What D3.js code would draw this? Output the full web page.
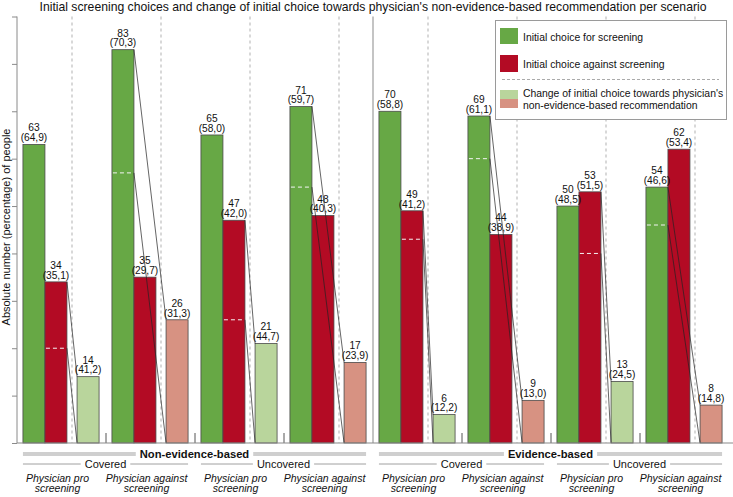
<!DOCTYPE html>
<html><head><meta charset="utf-8">
<script src="https://cdn.jsdelivr.net/npm/d3@7"></script>
<style>body{margin:0;background:#fff}svg{display:block;font-family:"Liberation Sans",Arial,sans-serif}</style>
</head><body><svg id="c" width="733" height="497"></svg>
<script>
// ---- data ----
const evidenceLevels = ["Non-evidence-based", "Evidence-based"];
const coverageLevels = ["Covered", "Uncovered"];
const physicianLevels = ["Physician pro\nscreening", "Physician against\nscreening"];
const scenarios = ["NEB-C-pro","NEB-C-against","NEB-U-pro","NEB-U-against","EB-C-pro","EB-C-against","EB-U-pro","EB-U-against"];
const forCounts = [63, 83, 65, 71, 70, 69, 50, 54];
const forPct = [64.9, 70.3, 58.0, 59.7, 58.8, 61.1, 48.5, 46.6];
const againstCounts = [34, 35, 47, 48, 49, 44, 53, 62];
const againstPct = [35.1, 29.7, 42.0, 40.3, 41.2, 38.9, 51.5, 53.4];
const changeCounts = [14, 26, 21, 17, 6, 9, 13, 8];
const changePct = [41.2, 31.3, 44.7, 23.9, 12.2, 13.0, 24.5, 14.8];
const yTicks = [0, 10, 20, 30, 40, 50, 60, 70, 80, 90];
const legendLabels = ["Initial choice for screening", "Initial choice against screening",
  "Change of initial choice towards physician's", "non-evidence-based recommendation"];
const title = "Initial screening choices and change of initial choice towards physician's non-evidence-based recommendation per scenario";
const yLabel = "Absolute number (percentage) of people";

// ---- styles ----
const C = {green:"#67a845", red:"#b30b24", lgreen:"#b9d59c", salmon:"#d79282", edge:"#4a4a4a", axis:"#8a8a8a"};
const fmt = v => "(" + d3.format(".1f")(v).replace(".", ",") + ")";

const svg = d3.select("#c");
const L = 17, R = 729, T = 16.5, B = 443;
const x = d3.scaleBand().domain(scenarios).range([L, R]);
const y = d3.scaleLinear().domain([0, 90]).range([B, T]);
const bw = x.bandwidth();
// inner layout in bar units (bar width = 1)
const unit = d3.scaleLinear().domain([0, 4.045]).range([0, bw]);
const inner = {for:0.27, against:1.27, dash:2.5, change:2.73};
const barW = unit(1);

const rows = scenarios.map((s, i) => ({
  s, i, pro: i % 2 === 0,
  f: forCounts[i], fp: forPct[i], a: againstCounts[i], ap: againstPct[i], c: changeCounts[i], cp: changePct[i]
}));

// title
svg.append("text").attr("x", 373).attr("y", 11).attr("text-anchor", "middle")
  .attr("font-size", 12.2).attr("fill", "#111").text(title);

// y label
svg.append("text").attr("transform", "translate(10,227) rotate(-90)").attr("text-anchor", "middle")
  .attr("font-size", 11).attr("fill", "#111").text(yLabel);

// dashed separators inside groups
svg.append("g").selectAll("line").data(rows).join("line")
  .attr("x1", d => x(d.s) + unit(inner.dash)).attr("x2", d => x(d.s) + unit(inner.dash))
  .attr("y1", T).attr("y2", B).attr("stroke", "#a8a8a8").attr("stroke-width", 0.9).attr("stroke-dasharray", "3,3");

// big separator
const midX = x(scenarios[4]);
svg.append("line").attr("x1", midX).attr("x2", midX).attr("y1", T).attr("y2", B)
  .attr("stroke", "#c4c4c4").attr("stroke-width", 2);

// small group ticks at baseline
svg.append("g").selectAll("line").data(scenarios.filter((s, i) => i > 0 && i !== 4)).join("line")
  .attr("x1", d => x(d)).attr("x2", d => x(d)).attr("y1", B - 10).attr("y2", B)
  .attr("stroke", "#555").attr("stroke-width", 1);

// bars
const bars = [];
rows.forEach(d => {
  bars.push({x: x(d.s) + unit(inner.for), v: d.f, p: d.fp, fill: C.green});
  bars.push({x: x(d.s) + unit(inner.against), v: d.a, p: d.ap, fill: C.red});
  bars.push({x: x(d.s) + unit(inner.change), v: d.c, p: d.cp, fill: d.pro ? C.lgreen : C.salmon});
});
svg.append("g").selectAll("rect").data(bars).join("rect")
  .attr("x", d => d.x).attr("y", d => y(d.v)).attr("width", barW).attr("height", d => y(0) - y(d.v))
  .attr("fill", d => d.fill).attr("stroke", C.edge).attr("stroke-width", 0.8);

// white dashed lines in source bars
rows.forEach(d => {
  const sx = x(d.s) + unit(d.pro ? inner.against : inner.for);
  const sv = d.pro ? d.a : d.f;
  svg.append("line").attr("x1", sx + 1).attr("x2", sx + barW - 1)
    .attr("y1", y(sv - d.c)).attr("y2", y(sv - d.c))
    .attr("stroke", "#f4f4f4").attr("stroke-width", 1).attr("stroke-dasharray", "4,3");
});

// value labels (two lines in one text element)
const lab = svg.append("g").attr("font-size", 10.2).attr("fill", "#111").attr("text-anchor", "middle");
bars.forEach(d => {
  const cx = d.x + barW / 2;
  const t = lab.append("text").attr("x", cx).attr("y", y(d.v) - 13);
  t.append("tspan").attr("x", cx).text(d.v);
  t.append("tspan").attr("x", cx).attr("dy", 9.8).text(fmt(d.p));
});

// connecting lines
rows.forEach(d => {
  const sx = x(d.s) + unit(d.pro ? inner.against : inner.for) + barW;
  const sv = d.pro ? d.a : d.f;
  const cx = x(d.s) + unit(inner.change);
  svg.append("line").attr("x1", sx).attr("y1", y(sv)).attr("x2", cx).attr("y2", y(d.c))
    .attr("stroke", "#222").attr("stroke-width", 0.7);
  svg.append("line").attr("x1", sx).attr("y1", y(sv - d.c)).attr("x2", cx).attr("y2", y(0))
    .attr("stroke", "#222").attr("stroke-width", 0.7);
});

// axes
const yAxis = svg.append("g").attr("transform", `translate(${L},0)`)
  .call(d3.axisLeft(y).tickValues(yTicks).tickSize(5).tickFormat(""));
yAxis.select(".domain").attr("stroke", C.axis).attr("d", `M-0,${T}V${B}`);
yAxis.selectAll(".tick line").attr("stroke", C.axis);
svg.append("line").attr("x1", L).attr("x2", 733).attr("y1", B).attr("y2", B).attr("stroke", C.axis).attr("stroke-width", 1.2);

// legend
const lg = svg.append("g");
lg.append("rect").attr("x", 495.5).attr("y", 20.5).attr("width", 231).attr("height", 99)
  .attr("fill", "#fff").attr("stroke", "#9a9a9a").attr("stroke-width", 1);
lg.append("rect").attr("x", 500).attr("y", 28).attr("width", 18).attr("height", 16).attr("fill", C.green);
lg.append("rect").attr("x", 500).attr("y", 55).attr("width", 18).attr("height", 17).attr("fill", C.red);
lg.append("rect").attr("x", 500).attr("y", 90).attr("width", 18).attr("height", 9).attr("fill", C.lgreen);
lg.append("rect").attr("x", 500).attr("y", 99).attr("width", 18).attr("height", 9).attr("fill", C.salmon);
lg.append("line").attr("x1", 502).attr("x2", 719).attr("y1", 79.5).attr("y2", 79.5)
  .attr("stroke", "#aaa").attr("stroke-dasharray", "3,2");
const lt = lg.append("g").attr("font-size", 10.4).attr("fill", "#111");
lt.append("text").attr("x", 523).attr("y", 40.5).text(legendLabels[0]);
lt.append("text").attr("x", 523).attr("y", 67.5).text(legendLabels[1]);
const lt2 = lt.append("text").attr("x", 523).attr("y", 97);
lt2.append("tspan").attr("x", 523).text(legendLabels[2]);
lt2.append("tspan").attr("x", 523).attr("dy", 11.5).text(legendLabels[3]);

// bottom hierarchical labels
function spanLabel(x0, x1, yy, txt, opts) {
  const cx = (x0 + x1) / 2;
  const t = svg.append("text").attr("x", cx).attr("y", yy + opts.dy).attr("text-anchor", "middle")
    .attr("font-size", opts.size).attr("font-weight", opts.weight || "normal").attr("fill", "#111").text(txt);
  const w = t.node().getComputedTextLength();
  [[x0, cx - w / 2 - opts.gap], [cx + w / 2 + opts.gap, x1]].forEach(([a, b]) => {
    svg.append("line").attr("x1", a).attr("x2", b).attr("y1", yy).attr("y2", yy)
      .attr("stroke", opts.color).attr("stroke-width", opts.sw);
  });
}
evidenceLevels.forEach((ev, k) => {
  const x0 = x(scenarios[k * 4]) + unit(inner.for);
  const x1 = x(scenarios[k * 4 + 3]) + unit(inner.change) + barW;
  spanLabel(x0, x1, 454, ev, {size: 11.2, weight: "bold", dy: 4, gap: 4, color: "#cfcfcf", sw: 4});
  coverageLevels.forEach((cv, j) => {
    const a0 = x(scenarios[k * 4 + j * 2]) + unit(inner.for);
    const a1 = x(scenarios[k * 4 + j * 2 + 1]) + unit(inner.change) + barW;
    spanLabel(a0, a1, 464, cv, {size: 11, dy: 3.8, gap: 4, color: "#a0a0a0", sw: 1});
  });
});
const pl = svg.append("g").attr("font-size", 10.5).attr("font-style", "italic").attr("fill", "#111").attr("text-anchor", "middle");
rows.forEach(d => {
  const lines = physicianLevels[d.pro ? 0 : 1].split("\n");
  const cx = x(d.s) + bw / 2 - 4;
  const t = pl.append("text").attr("x", cx).attr("y", 481.5);
  t.append("tspan").attr("x", cx).text(lines[0]);
  t.append("tspan").attr("x", cx).attr("dy", 10.5).text(lines[1]);
});
</script></body></html>
